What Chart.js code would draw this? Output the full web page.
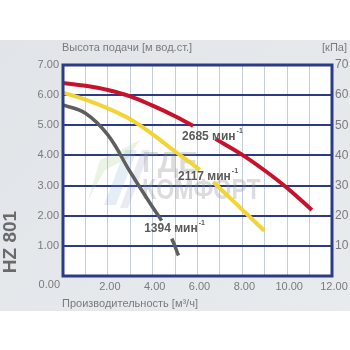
<!DOCTYPE html>
<html>
<head>
<meta charset="utf-8">
<script src="https://cdn.jsdelivr.net/npm/chart.js@4.4.1/dist/chart.umd.min.js"></script>
<style>
  html, body { margin: 0; padding: 0; background: #ffffff; }
  canvas { display: block; }
</style>
</head>
<body>
<canvas id="pump" width="350" height="350"></canvas>
<script>
// Pump curves HZ 801: delivery head [m] vs flow rate [m³/h] at three speeds
const flow2685 = [0, 1, 2, 3, 4, 5, 5.8, 6.8, 8, 9, 10, 11.1];
const head2685 = [6.40, 6.31, 6.17, 5.96, 5.65, 5.30, 4.98, 4.55, 4.02, 3.50, 2.92, 2.19];

const flow2117 = [0, 1, 2, 3, 4, 5, 6.1, 6.7, 8, 8.98];
const head2117 = [6.08, 5.85, 5.56, 5.20, 4.70, 4.13, 3.52, 3.12, 2.20, 1.50];

const flow1394 = [0, 1, 2, 3, 4, 4.4, 4.85, 5.15];
const head1394 = [5.68, 5.40, 4.68, 3.45, 2.28, 1.84, 1.24, 0.68];

// label gap (index of the point where the gap segment starts)
const gapStart = { r: 6, y: 6, g: 5 };

const speedLabels = ['2685 мин', '2117 мин', '1394 мин'];
const xTicks = [2, 4, 6, 8, 10, 12];
const headTicks = [1, 2, 3, 4, 5, 6, 7];
const kpaTicks = [10, 20, 30, 40, 50, 60, 70];

const toPoints = (xs, ys) => xs.map((x, i) => ({ x, y: ys[i] }));

const FONT = '"Liberation Sans", Arial, sans-serif';
const NAVY = '#2c3b85';
const TEXT = '#7a7a7a';

function gapSegment(start, color) {
  return ctx => ctx.p0DataIndex === start ? 'rgba(0,0,0,0)' : color;
}

const decor = {
  id: 'decor',
  beforeDraw(chart) {
    const { ctx, chartArea: a } = chart;
    ctx.save();
    ctx.fillStyle = '#ffffff';
    ctx.fillRect(0, 0, chart.width, chart.height);
    const g = ctx.createLinearGradient(0, 40, 350, 311);
    g.addColorStop(0, '#e1e5e9');
    g.addColorStop(1, '#e8ebee');
    ctx.fillStyle = g;
    ctx.fillRect(0, 40, chart.width, 271);
    ctx.fillStyle = '#ffffff';
    ctx.fillRect(a.left, a.top, a.right - a.left, a.bottom - a.top);
    ctx.restore();
  },
  beforeDatasetsDraw(chart) {
    // faint watermark behind the curves
    const { ctx } = chart;
    ctx.save();
    ctx.globalAlpha = 0.18;
    ctx.fillStyle = '#8fbf6a';
    ctx.beginPath();
    ctx.moveTo(88, 200); ctx.lineTo(100, 160); ctx.lineTo(140, 140); ctx.lineTo(128, 158); ctx.lineTo(105, 170); ctx.closePath();
    ctx.fill();
    ctx.fillStyle = '#6f9fd0';
    ctx.beginPath();
    ctx.moveTo(104, 205); ctx.lineTo(125, 150); ctx.lineTo(137, 150); ctx.lineTo(116, 205); ctx.closePath();
    ctx.fill();
    ctx.fillStyle = '#8a8ab8';
    ctx.beginPath();
    ctx.moveTo(120, 208); ctx.lineTo(142, 150); ctx.lineTo(150, 150); ctx.lineTo(128, 208); ctx.closePath();
    ctx.fill();
    ctx.globalAlpha = 0.30;
    ctx.fillStyle = '#8c8c8c';
    ctx.font = 'bold 29px ' + FONT;
    ctx.textBaseline = 'alphabetic';
    ctx.textAlign = 'left';
    ctx.fillText('ГДЕ', 142, 172);
    ctx.save();
    ctx.translate(142, 199);
    ctx.scale(0.8, 1);
    ctx.fillText('КОМФОРТ', 0, 0);
    ctx.restore();
    ctx.restore();
  },
  afterDraw(chart) {
    const { ctx, chartArea: a, scales } = chart;
    ctx.save();
    // frame
    ctx.strokeStyle = NAVY;
    ctx.lineWidth = 3;
    ctx.strokeRect(a.left, a.top, a.right - a.left, a.bottom - a.top);

    // axis titles
    ctx.fillStyle = TEXT;
    ctx.font = '11px ' + FONT;
    ctx.textBaseline = 'middle';
    ctx.textAlign = 'left';
    ctx.fillText('Высота подачи [м вод.ст.]', 62, 48);
    ctx.fillText('Производительность [м³/ч]', 62, 304);
    ctx.textAlign = 'right';
    ctx.fillText('[кПа]', 347, 48);
    ctx.fillText('0.00', 60, 285);

    // model name
    ctx.save();
    ctx.translate(11, 242);
    ctx.rotate(-Math.PI / 2);
    ctx.textAlign = 'center';
    ctx.textBaseline = 'middle';
    ctx.fillStyle = '#6a6a6a';
    ctx.font = 'bold 19px ' + FONT;
    ctx.fillText('HZ 801', 0, 0);
    ctx.restore();

    // speed labels, anchored in data units
    const anchors = [[5.31, 4.61], [5.13, 3.28], [3.62, 1.56]];
    ctx.fillStyle = '#5a5a5a';
    ctx.textAlign = 'left';
    ctx.textBaseline = 'middle';
    speedLabels.forEach((txt, i) => {
      const px = scales.x.getPixelForValue(anchors[i][0]);
      const py = scales.y.getPixelForValue(anchors[i][1]);
      ctx.font = 'bold 12px ' + FONT;
      ctx.fillText(txt, px, py);
      const w = ctx.measureText(txt).width;
      ctx.font = 'bold 7px ' + FONT;
      ctx.fillText('-1', px + w + 1, py - 6);
    });
    ctx.restore();
  }
};

new Chart(document.getElementById('pump'), {
  type: 'line',
  data: {
    datasets: [
      {
        label: '2685',
        data: toPoints(flow2685, head2685),
        borderColor: '#c8122c',
        borderWidth: 4,
        segment: { borderColor: gapSegment(gapStart.r, '#c8122c') }
      },
      {
        label: '2117',
        data: toPoints(flow2117, head2117),
        borderColor: '#f2d435',
        borderWidth: 4,
        segment: { borderColor: gapSegment(gapStart.y, '#f2d435') }
      },
      {
        label: '1394',
        data: toPoints(flow1394, head1394),
        borderColor: '#5e5e5e',
        borderWidth: 3.5,
        segment: { borderColor: gapSegment(gapStart.g, '#5e5e5e') }
      }
    ]
  },
  options: {
    responsive: false,
    animation: false,
    devicePixelRatio: 1,
    layout: { padding: { top: 65, left: 0, right: 0, bottom: 0 } },
    elements: {
      point: { radius: 0 },
      line: { tension: 0.4, borderCapStyle: 'butt', fill: false }
    },
    plugins: { legend: { display: false }, tooltip: { enabled: false }, title: { display: false } },
    scales: {
      x: {
        type: 'linear', min: 0, max: 12,
        afterFit: s => { s.height = 74; },
        afterBuildTicks: s => { s.ticks = Array.from({ length: 13 }, (_, i) => ({ value: i })); },
        ticks: {
          color: TEXT, font: { size: 11, family: FONT }, padding: 4, labelOffset: 2,
          maxRotation: 0, autoSkip: false,
          callback: v => xTicks.includes(v) ? v.toFixed(2) : ''
        },
        grid: { color: '#c3cddd', lineWidth: 1, drawTicks: false },
        border: { display: false }
      },
      y: {
        type: 'linear', position: 'left', min: 0, max: 7,
        afterFit: s => { s.width = 63; },
        afterBuildTicks: s => { s.ticks = [0].concat(headTicks).map(v => ({ value: v })); },
        ticks: {
          color: TEXT, font: { size: 11, family: FONT }, padding: 4,
          callback: v => headTicks.includes(v) ? v.toFixed(2) : ''
        },
        grid: { color: NAVY, lineWidth: 2, drawTicks: false },
        border: { display: false }
      },
      y2: {
        type: 'linear', position: 'right', min: 0, max: 70,
        afterFit: s => { s.width = 18; },
        afterBuildTicks: s => { s.ticks = [0].concat(kpaTicks).map(v => ({ value: v })); },
        ticks: {
          color: TEXT, font: { size: 12, family: FONT }, padding: 3,
          callback: v => kpaTicks.includes(v) ? String(v) : ''
        },
        grid: { display: false, drawTicks: false },
        border: { display: false }
      }
    }
  },
  plugins: [decor]
});
</script>
</body>
</html>
